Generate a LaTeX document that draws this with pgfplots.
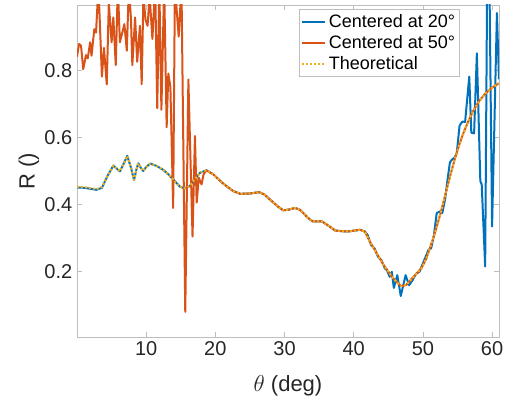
\documentclass[border=0pt]{standalone}
\usepackage{fontspec}
\setmainfont{Liberation Sans}
\usepackage{pgfplots}
\usepackage{pgfplotstable}
\pgfplotsset{compat=1.18}

\definecolor{mblue}{rgb}{0,0.447,0.741}
\definecolor{morange}{rgb}{0.85,0.325,0.098}
\definecolor{myellow}{rgb}{0.929,0.694,0.125}
\definecolor{axgray}{RGB}{190,190,190}
\definecolor{txtgray}{RGB}{38,38,38}

% theoretical curve
\pgfplotstableread{
x y
0 0.453
1 0.452
2 0.449
2.8 0.446
3.6 0.452
4.4 0.485
5.25 0.516
5.7 0.508
6.2 0.499
6.7 0.520
7.27 0.545
7.8 0.510
8.24 0.473
8.6 0.505
8.86 0.523
9.2 0.510
9.58 0.500
10.0 0.512
10.6 0.522
11.5 0.515
12.5 0.503
13.2 0.490
13.9 0.475
14.9 0.453
15.6 0.448
16.3 0.455
17.0 0.475
17.8 0.495
18.7 0.502
19.7 0.490
20.2 0.480
21.0 0.465
21.6 0.455
22.6 0.440
23.6 0.432
25.0 0.433
26.3 0.437
27.1 0.430
27.9 0.415
29.0 0.395
29.8 0.383
30.6 0.385
31.5 0.390
32.2 0.385
32.7 0.375
33.4 0.360
34.1 0.350
35.4 0.350
36.3 0.338
37.3 0.323
38.2 0.321
39.2 0.320
40.2 0.323
40.9 0.325
41.6 0.320
42.3 0.291
43.3 0.256
44.3 0.221
45.5 0.186
46.3 0.168
46.9 0.157
47.6 0.161
48.6 0.184
49.8 0.211
50.5 0.240
51.0 0.270
51.5 0.300
52.0 0.335
52.5 0.370
53.0 0.410
53.5 0.450
54.0 0.490
54.6 0.535
55.2 0.575
55.8 0.610
56.5 0.645
57.3 0.680
58.2 0.710
59.0 0.730
60.0 0.748
61.0 0.761
}\theo

% centered at 20 deg
\pgfplotstableread{
x y
0 0.451
1 0.450
2 0.447
2.8 0.444
3.6 0.450
4.4 0.485
5.25 0.516
5.7 0.508
6.2 0.499
6.7 0.520
7.27 0.545
7.8 0.510
8.24 0.473
8.6 0.505
8.86 0.523
9.2 0.510
9.58 0.500
10.0 0.512
10.6 0.522
11.5 0.515
12.5 0.503
13.2 0.490
13.9 0.475
14.9 0.453
15.6 0.448
16.3 0.455
17.0 0.475
17.8 0.495
18.7 0.502
19.7 0.490
20.2 0.480
21.0 0.465
21.6 0.455
22.6 0.440
23.6 0.432
25.0 0.433
26.3 0.437
27.1 0.430
27.9 0.415
29.0 0.395
29.8 0.383
30.6 0.385
31.5 0.390
32.2 0.385
32.7 0.375
33.4 0.360
34.1 0.350
35.4 0.350
36.3 0.338
37.3 0.323
38.2 0.321
39.2 0.320
40.2 0.323
40.9 0.325
41.6 0.320
42.0 0.310
42.5 0.280
43.0 0.270
43.5 0.245
44.0 0.235
44.5 0.210
44.8 0.205
45.2 0.185
45.5 0.200
45.8 0.152
46.3 0.190
46.8 0.128
47.5 0.190
48.0 0.160
48.5 0.175
49.0 0.194
49.5 0.200
50.0 0.225
50.4 0.245
50.8 0.265
51.2 0.270
51.6 0.310
52.0 0.375
52.5 0.380
52.8 0.375
53.2 0.415
53.6 0.480
53.9 0.525
54.2 0.534
54.6 0.540
54.9 0.554
55.3 0.635
55.7 0.647
56.1 0.646
56.7 0.781
57.0 0.614
57.4 0.612
57.8 0.850
58.3 0.470
58.5 0.460
59.0 0.216
59.3 1.100
59.6 1.100
60.0 0.335
60.7 0.970
61.0 0.773
}\cwenty

% centered at 50 deg
\pgfplotstableread{
x y
0 0.840
0.3 0.878
0.58 0.873
0.9 0.803
1.3 0.845
1.55 0.835
1.9 0.883
2.1 0.843
2.5 0.922
2.75 0.912
3.1 1.050
3.6 0.781
3.9 0.866
4.3 0.758
4.6 1.000
5.0 0.883
5.25 0.957
5.6 0.815
5.9 1.050
6.2 0.883
6.4 0.900
6.85 0.937
7.2 0.858
7.5 1.050
7.8 0.952
8.0 0.815
8.4 0.957
8.7 0.825
9.1 0.932
9.35 0.758
9.6 1.020
9.9 0.950
10.2 0.932
10.5 1.020
10.9 0.893
11.3 1.050
11.6 0.687
11.9 1.050
12.2 0.682
12.6 1.050
12.96 0.630
13.2 0.790
13.5 0.750
13.9 0.390
14.15 1.050
14.7 0.900
15.1 1.050
15.65 0.081
16.1 0.772
16.7 0.305
17.05 0.604
17.3 0.406
17.6 0.480
18.0 0.460
18.3 0.490
18.7 0.502
19.7 0.490
20.2 0.480
21.0 0.465
21.6 0.455
22.6 0.440
23.6 0.432
25.0 0.433
26.3 0.437
27.1 0.430
27.9 0.415
29.0 0.395
29.8 0.383
30.6 0.385
31.5 0.390
32.2 0.385
32.7 0.375
33.4 0.360
34.1 0.350
35.4 0.350
36.3 0.338
37.3 0.323
38.2 0.321
39.2 0.320
40.2 0.323
40.9 0.325
41.6 0.320
42.3 0.291
43.3 0.256
44.3 0.221
45.5 0.186
46.3 0.168
46.9 0.157
47.6 0.161
48.6 0.184
49.8 0.211
50.5 0.240
51.0 0.270
51.5 0.300
52.0 0.335
52.5 0.370
53.0 0.410
53.5 0.450
54.0 0.490
54.6 0.535
55.2 0.575
55.8 0.610
56.5 0.645
57.3 0.680
58.2 0.710
59.0 0.730
60.0 0.748
61.0 0.761
}\cfifty

\begin{document}
\begin{tikzpicture}
\begin{axis}[
    scale only axis,
    width=316.5pt, height=249pt,
    at={(0,0)}, anchor=south west,
    xmin=0, xmax=61, ymin=0.006, ymax=0.994,
    xtick={10,20,...,60}, ytick={0.2,0.4,0.6,0.8},
    tick align=inside, major tick length=4pt,
    axis line style={axgray, line width=0.6pt},
    tick style={axgray, line width=0.6pt},
    /pgf/number format/assume math mode=true,
    ticklabel style={font=\fontsize{15}{18}\selectfont, text=txtgray},
    xlabel={$\theta$ (deg)}, ylabel={R ()},
    label style={font=\fontsize{16.5}{19}\selectfont, text=txtgray},
    xlabel style={at={(axis description cs:0.5,-0.1476)}, anchor=center},
    ylabel style={at={(axis description cs:-0.1137,0.5)}, anchor=center, rotate=0},
    legend style={at={(0.9076,0.987)}, anchor=north east, draw=axgray,
        font=\fontsize{13.5}{16}\selectfont, legend cell align=left,
        inner sep=1.5pt, row sep=0.5pt},
    legend image code/.code={\draw[#1] (0pt,0pt) -- (17pt,0pt);},
    every axis plot/.append style={line join=round},
]
\addplot[mblue, line width=1.5pt] table {\cwenty};
\addlegendentry{Centered at 20°}
\addplot[morange, line width=1.5pt] table {\cfifty};
\addlegendentry{Centered at 50°}
\addplot[myellow, line width=1.5pt, dash pattern=on 1.5pt off 1.5pt] table {\theo};
\addlegendentry{Theoretical}
\end{axis}
\pgfresetboundingbox
\path[use as bounding box] (-57.75pt,-48.75pt) rectangle (332.25pt,252.75pt);
\end{tikzpicture}
\end{document}
